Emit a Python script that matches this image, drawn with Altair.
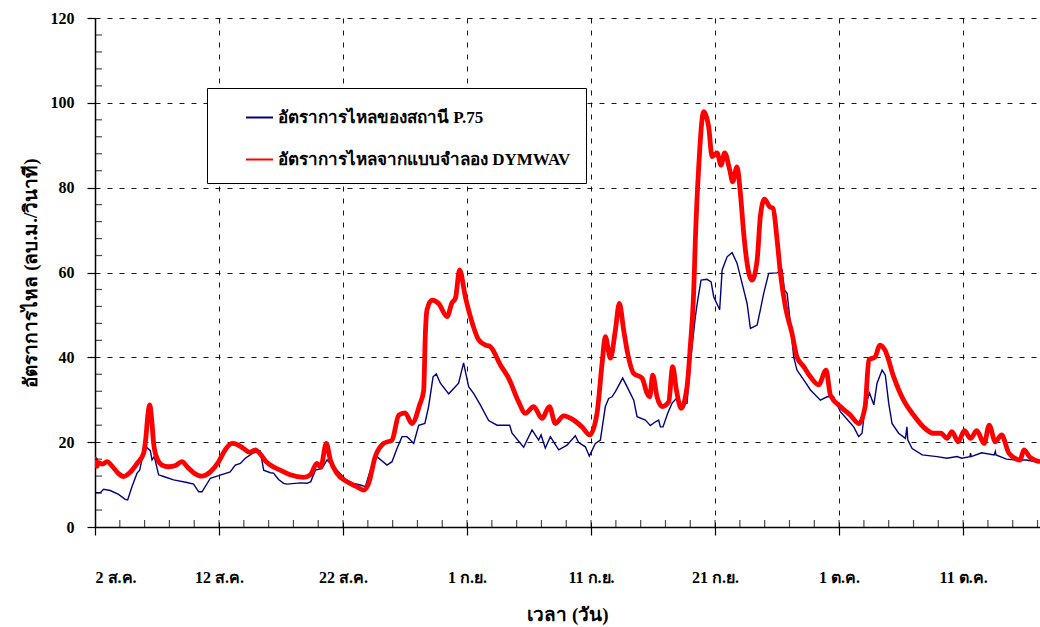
import altair as alt
import pandas as pd

# ---------------- data ----------------
obs_day = [0, 0.43, 0.69, 1.23, 1.9, 2.44, 2.63, 2.98, 3.39, 3.6, 3.87, 4.19, 4.46, 4.6, 4.78,
           5.13, 5.53, 6.34, 7.42, 7.95, 8.36, 8.63, 9.3, 9.97, 10.9, 11.31, 11.72, 12.12, 12.79,
           13.33, 13.6, 14.14, 14.4, 14.8, 15.21, 15.48, 16.56, 17.1, 17.4, 17.77, 18.31, 18.71,
           19.24, 19.65, 20.19, 20.85, 21.4, 21.8, 22.2, 22.73, 23.55, 23.95, 24.35, 24.76, 25.16,
           25.7, 26.1, 26.6, 26.9, 27.26, 27.52, 27.85, 28.52, 29.32, 29.72, 30.13, 30.53, 31.07,
           31.74, 32.42, 33.44, 33.63, 34.56, 35.24, 35.77, 35.97, 36.31, 36.72, 37.39, 38.06,
           38.73, 39.0, 39.54, 39.86, 40.35, 40.75, 41.15, 41.42, 41.69, 41.96, 42.55, 42.9, 43.44,
           43.71, 44.38, 44.78, 45.19, 45.45, 45.59, 45.8, 46.18, 46.53, 46.88, 47.26, 47.74, 48.0,
           48.41, 48.6, 48.87, 49.35, 49.68, 49.89, 50.37, 50.57, 50.97, 51.37, 51.77, 52.31,
           52.58, 52.85, 53.39, 53.65, 53.92, 54.32, 55.0, 55.4, 55.59, 55.81, 56.07, 56.34, 56.6,
           57.15, 57.69, 58.49, 59.03, 59.56, 60.1, 60.64, 61.18, 61.58, 61.85, 62.1, 62.45, 62.8,
           63.06, 63.47, 63.73, 64.0, 64.27, 64.8, 65.35, 65.47, 65.54, 65.89, 66.7, 67.9, 68.7,
           69.5, 69.9, 70.55, 70.6, 70.65, 71.5, 72.5, 72.6, 72.65, 73.5, 74.3, 75.1, 76.2]
obs_q = [8.1, 8.1, 8.9, 8.6, 7.7, 6.5, 6.4, 9.5, 12.7, 13.4, 17.0, 18.7, 18.0, 15.8, 16.6,
         12.3, 11.9, 11.1, 10.5, 10.1, 8.3, 8.3, 11.5, 12.1, 13.0, 14.6, 15.0, 16.2, 17.5,
         17.9, 13.4, 12.8, 12.7, 11.2, 10.3, 10.1, 10.4, 10.3, 10.7, 13.4, 13.8, 15.8,
         14.2, 13.0, 11.2, 10.3, 9.9, 9.5, 13.4, 16.6, 14.6, 15.4, 18.5, 21.3, 21.3,
         19.7, 24.0, 24.4, 28.4, 35.4, 36.1, 33.9, 31.4, 33.9, 38.7, 33.1, 31.5, 28.8,
         25.1, 24.0, 24.0, 22.1, 18.8, 22.9, 20.5, 21.7, 18.6, 21.3, 18.2, 19.3,
         21.5, 19.9, 18.9, 16.7, 19.7, 20.5, 28.4, 30.3, 30.7, 31.9, 35.1, 33.1, 29.9,
         26.0, 25.2, 23.9, 24.8, 25.2, 23.6, 23.6, 26.8, 29.2, 30.3, 28.8, 29.2, 38.6,
         49.6, 53.5, 58.2, 58.4, 57.8, 54.3, 51.2, 60.6, 63.7, 64.7, 62.2, 55.9,
         52.7, 46.8, 47.6, 51.2, 55.1, 59.8, 59.9, 60.6, 55.9, 55.1, 48.0, 40.1, 37.0,
         34.7, 32.3, 29.9, 30.7, 30.7, 27.2, 25.4, 23.6, 21.3, 22.1, 28.4, 31.6, 28.8,
         33.9, 37.0, 35.8, 29.2, 24.4, 22.1, 20.9, 23.6, 20.5, 18.5, 17.0, 16.6, 16.2,
         16.6, 16.2, 16.6, 17.4, 16.6, 17.5, 17.0, 17.8, 17.0, 16.0, 15.8, 15.8, 15.2]

sim_day = [0, 0.05, 0.15, 0.3, 0.6, 0.97, 1.4, 1.9, 2.31, 2.8, 3.4, 3.92, 4.1, 4.25, 4.41, 4.55,
           4.73, 5.0, 5.4, 5.94, 6.5, 7.0, 7.5, 8.0, 8.63, 9.3, 9.97, 10.5, 11.05, 11.5, 11.98,
           12.5, 12.93, 13.33, 13.8, 14.14, 14.94, 15.75, 16.82, 17.36, 17.9, 18.2, 18.65, 18.98,
           19.5, 20.3, 21.1, 21.66, 22.06, 22.6, 23.27, 23.95, 24.5, 25.0, 25.56, 26.2, 26.5,
           26.64, 26.77, 27.18, 27.71, 28.39, 28.79, 29.06, 29.4, 29.86, 30.27, 30.94, 31.48,
           31.88, 32.69, 33.35, 34.16, 34.7, 35.37, 36.05, 36.64, 37.12, 37.79, 38.6, 39.3,
           39.89, 40.48, 40.89, 41.15, 41.56, 41.96, 42.28, 42.63, 42.9, 43.44, 44.11, 44.52,
           44.73, 44.97, 45.32, 45.73, 46.26, 46.58, 46.88, 47.26, 47.74, 48.0, 48.27, 48.41,
           48.68, 49.08, 49.48, 49.76, 50.16, 50.48, 50.77, 51.18, 51.42, 51.77, 52.04, 52.31,
           52.58, 52.98, 53.39, 53.65, 53.98, 54.4, 54.68, 55.0, 55.27, 55.67, 56.2, 56.6, 57.15,
           57.69, 58.35, 58.95, 59.3, 60.1, 60.9, 61.6, 62.1, 62.4, 62.9, 63.3, 63.7, 64.4, 65.2,
           66.0, 66.8, 67.6, 68.2, 68.7, 69.1, 69.6, 70.1, 70.6, 71.1, 71.7, 72.1, 72.6, 73.1,
           73.7, 74.6, 74.9, 75.4, 76.2]
sim_q = [14.0, 16.0, 14.3, 15.2, 14.8, 15.4, 14.3, 12.6, 11.9, 12.8, 15.0, 17.4, 21.0, 26.0, 28.8, 26.0,
         19.7, 16.2, 14.6, 14.2, 14.5, 15.4, 14.0, 12.7, 12.0, 13.0, 15.4, 18.2, 19.7, 19.4, 18.5,
         17.6, 18.2, 17.2, 15.4, 14.6, 13.4, 12.3, 11.7, 12.3, 15.0, 14.1, 19.7, 15.8,
         12.7, 10.7, 9.5, 8.7, 10.3, 16.6, 19.7, 20.5, 26.4, 26.9, 24.4, 29.0, 32.1,
         45.7, 51.2, 53.5, 52.7, 49.6, 52.9, 53.9, 60.6, 54.3, 49.6, 44.1, 42.9,
         42.5, 38.2, 35.1, 29.5, 26.8, 28.4, 25.6, 28.4, 24.4, 26.2, 25.2, 23.5,
         21.7, 26.8, 38.6, 44.9, 39.8, 46.4, 52.7, 46.4, 41.7, 36.2, 35.1, 31.5,
         30.7, 35.8, 30.7, 28.4, 29.5, 37.8, 32.3, 28.0, 33.1, 42.5, 55.0, 67.7,
         84.9, 97.9, 94.4, 87.3, 88.2, 85.3, 88.2, 84.2, 81.4, 84.9, 78.7, 69.2,
         62.2, 58.2, 62.9, 73.2, 77.3, 75.5, 75.1, 67.7, 59.8, 51.9, 45.7, 40.1, 37.8,
         35.4, 33.5, 37.0, 31.1, 28.4, 26.4, 24.4, 28.4, 39.4, 40.1, 42.9, 41.7, 35.4, 29.9,
         26.4, 23.6, 22.1, 22.1, 20.9, 22.5, 20.1, 22.7, 20.9, 22.7, 19.7, 24.0, 20.1, 21.7,
         17.4, 15.8, 18.2, 16.4, 15.4]

x_tick_days = [0, 10, 20, 30, 40, 50, 60, 70]
x_tick_labels = ["2 ส.ค.", "12 ส.ค.", "22 ส.ค.", "1 ก.ย.", "11 ก.ย.", "21 ก.ย.", "1 ต.ค.", "11 ต.ค."]
x_minor_days = list(range(2, 77, 2))
y_ticks = [0, 20, 40, 60, 80, 100, 120]
y_minor_vals = [v for v in range(4, 120, 4) if v % 20 != 0]
series_names = ["อัตราการไหลของสถานี P.75", "อัตราการไหลจากแบบจำลอง DYMWAV"]
series_colors = ["#000080", "#ff0000"]
x_title = "เวลา (วัน)"
y_title = "อัตราการไหล (ลบ.ม./วินาที)"

# ---------------- tables ----------------
df = pd.concat([
    pd.DataFrame({"day": obs_day, "q": obs_q, "series": series_names[0]}),
    pd.DataFrame({"day": sim_day, "q": sim_q, "series": series_names[1]}),
], ignore_index=True)
xminor_df = pd.DataFrame({"day": x_minor_days})
yminor_df = pd.DataFrame({"q": y_minor_vals})

label_expr = " : ".join(
    f"datum.value == {d} ? '{t}'" for d, t in zip(x_tick_days, x_tick_labels)
) + " : ''"

FONT = "Liberation Serif"
W, H = 945, 509
MINOR = 7

xscale = alt.Scale(domain=[0, 76.2], nice=False, zero=False)
yscale = alt.Scale(domain=[0, 120], nice=False)

color = alt.Color(
    "series:N",
    scale=alt.Scale(domain=series_names, range=series_colors),
    sort=series_names,
    legend=alt.Legend(
        title=None, orient="none", legendX=112, legendY=70, direction="vertical",
        strokeColor="black", fillColor="white", padding=15,
        symbolType="stroke", symbolSize=729, symbolStrokeWidth=2, symbolOffset=23,
        labelFont=FONT, labelFontWeight="bold", labelFontSize=17, labelColor="black",
        labelOffset=4, labelLimit=600, rowPadding=19,
        # trailing non-breaking spaces widen the legend box to the reference's width
        labelExpr="datum.label + '\u00a0\u00a0\u00a0\u00a0\u00a0\u00a0'",
    ),
)

x_major = alt.Axis(
    values=x_tick_days, labelExpr=label_expr, grid=True, gridDash=[5, 7], gridColor="black",
    gridWidth=1, gridOpacity=0.9, tickSize=8, tickColor="black", tickWidth=1.2,
    domainColor="black", domainWidth=1.5, labelPadding=34, labelFont=FONT,
    labelFontWeight="bold", labelFontSize=16, labelColor="black",
    title=x_title, titleFont=FONT, titleFontWeight="bold", titleFontSize=19,
    titleColor="black", titlePadding=20, orient="bottom",
)
y_major = alt.Axis(
    values=y_ticks, grid=True, gridDash=[5, 7], gridColor="black", gridWidth=1, gridOpacity=0.9,
    tickSize=8, tickColor="black", tickWidth=1.2, domainColor="black", domainWidth=1.5,
    labelPadding=13, labelFont=FONT, labelFontWeight="bold", labelFontSize=16,
    labelColor="black", title=y_title, titleFont=FONT, titleFontWeight="bold",
    titleFontSize=19, titleColor="black", titlePadding=10, orient="left",
)

base = alt.Chart(df)

obs = base.transform_filter(alt.datum.series == series_names[0]).mark_line(
    strokeWidth=1.4, clip=True
).encode(
    x=alt.X("day:Q", scale=xscale, axis=x_major),
    y=alt.Y("q:Q", scale=yscale, axis=y_major),
    color=color,
)

sim = base.transform_filter(alt.datum.series == series_names[1]).mark_line(
    strokeWidth=4.8, clip=True, interpolate="monotone"
).encode(
    x=alt.X("day:Q", scale=xscale),
    y=alt.Y("q:Q", scale=yscale),
    color=color,
)

# inward minor ticks (axis decoration)
x_minor = alt.Chart(xminor_df).mark_tick(
    color="black", thickness=1.2, size=MINOR, orient="vertical"
).encode(
    x=alt.X("day:Q", scale=xscale),
    y=alt.value(H - MINOR / 2),
)
y_minor = alt.Chart(yminor_df).mark_tick(
    color="black", thickness=1.2, size=MINOR, orient="horizontal"
).encode(
    y=alt.Y("q:Q", scale=yscale),
    x=alt.value(MINOR / 2),
)

chart = alt.layer(obs, sim, x_minor, y_minor).properties(
    width=W, height=H,
    padding={"left": 95, "top": 18, "right": 0, "bottom": 100},
    autosize=alt.AutoSizeParams(type="none"),
    background="white",
).configure_view(stroke=None)

chart.save("out.html", embed_options={"renderer": "svg", "actions": False})
